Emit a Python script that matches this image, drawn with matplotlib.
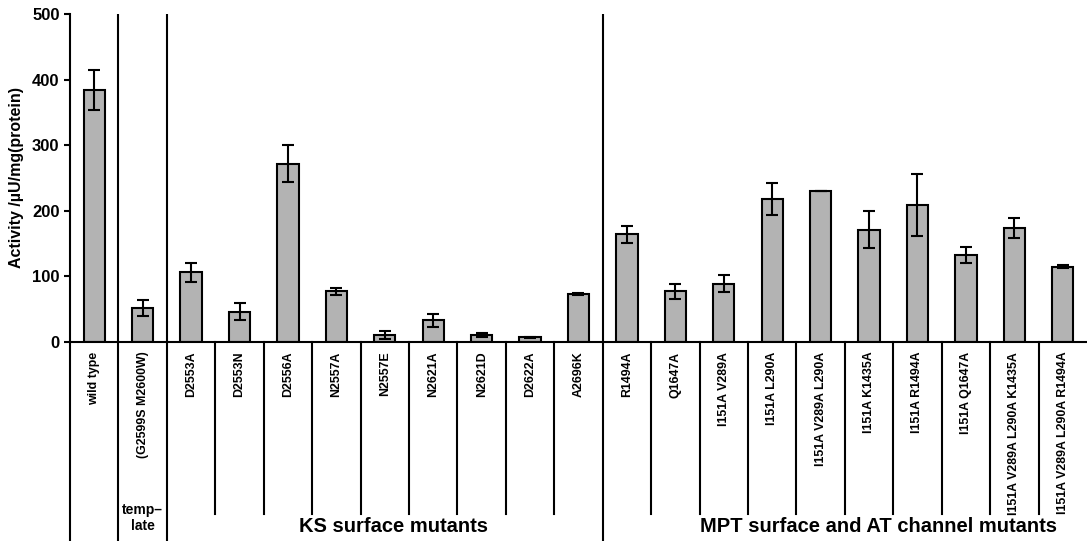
import matplotlib
matplotlib.use("Agg")
import matplotlib.pyplot as plt
import matplotlib.transforms as mtransforms
import numpy as np

plt.rcParams["font.family"] = ["Liberation Sans", "DejaVu Sans"]
plt.rcParams["font.weight"] = "bold"

labels = [
    "wild type", "(G2599S M2600W)",
    "D2553A", "D2553N", "D2556A", "N2557A", "N2557E",
    "N2621A", "N2621D", "D2622A", "A2696K",
    "R1494A", "Q1647A", "I151A V289A", "I151A L290A", "I151A V289A L290A",
    "I151A K1435A", "I151A R1494A", "I151A Q1647A",
    "I151A V289A L290A K1435A", "I151A V289A L290A R1494A",
]
activity = [384, 52, 106, 46, 272, 77, 11, 33, 11, 7, 73,
            164, 77, 89, 218, 230, 171, 209, 133, 174, 115]
errors = [31, 12, 15, 13, 28, 6, 6, 10, 3, 1, 1,
          13, 12, 13, 25, 0, 28, 47, 12, 15, 2]

group_lines = [0.5, 1.5, 10.5]
group_names = ["temp\u2013\nlate", "KS surface mutants",
               "MPT surface and AT channel mutants"]


def main():
    fig = plt.figure(figsize=(10.87, 5.41), dpi=100)
    ax = fig.add_axes([70 / 1087, (541 - 342) / 541, 1 - 70 / 1087, 328 / 541])

    x = np.arange(len(labels))
    ax.bar(x, activity, width=0.44, color="#b3b3b3", edgecolor="black",
           linewidth=1.5, zorder=2)
    ax.errorbar(x, activity, yerr=errors, fmt="none", ecolor="black",
                elinewidth=1.5, capsize=4, capthick=1.5, zorder=3)

    ax.set_xlim(-0.5, len(labels) - 0.5)
    ax.set_ylim(0, 500)
    ax.set_yticks([0, 100, 200, 300, 400, 500])
    ax.tick_params(axis="y", labelsize=12, width=1.5, length=4, direction="out")
    ax.set_xticks(x)
    ax.set_xticklabels(labels, rotation=90, fontsize=8.9, fontweight="bold",
                       va="top")
    ax.tick_params(axis="x", length=0, pad=7)
    for lab in ax.get_yticklabels():
        lab.set_fontweight("bold")

    ax.set_ylabel("Activity /\u00b5U/mg(protein)", fontsize=11.5,
                  fontweight="bold", labelpad=6)

    for side in ["top", "right"]:
        ax.spines[side].set_visible(False)
    ax.spines["left"].set_linewidth(1.5)
    ax.spines["bottom"].set_linewidth(1.5)

    for g in group_lines:
        ax.axvline(g, color="black", linewidth=1.5, zorder=1)

    # table-like separators below the axis
    trans = mtransforms.blended_transform_factory(ax.transData, fig.transFigure)
    for k in range(len(labels)):
        xs = k - 0.5
        full = xs == -0.5 or xs in group_lines
        ybot = 0.0 if full else (541 - 514) / 541
        ax.plot([xs, xs], [(541 - 342) / 541, ybot], color="black",
                linewidth=1.5, transform=trans, clip_on=False)

    ax.text(1, (541 - 518) / 541, group_names[0], transform=trans,
            ha="center", va="center", fontsize=10, fontweight="bold",
            linespacing=1.1)
    ax.text(6.18, (541 - 527) / 541, group_names[1], transform=trans,
            ha="center", va="center", fontsize=14.5, fontweight="bold")
    ax.text(16.2, (541 - 527) / 541, group_names[2], transform=trans,
            ha="center", va="center", fontsize=14.5, fontweight="bold")

    fig.savefig("out.png", dpi=100)


if __name__ == "__main__":
    main()
